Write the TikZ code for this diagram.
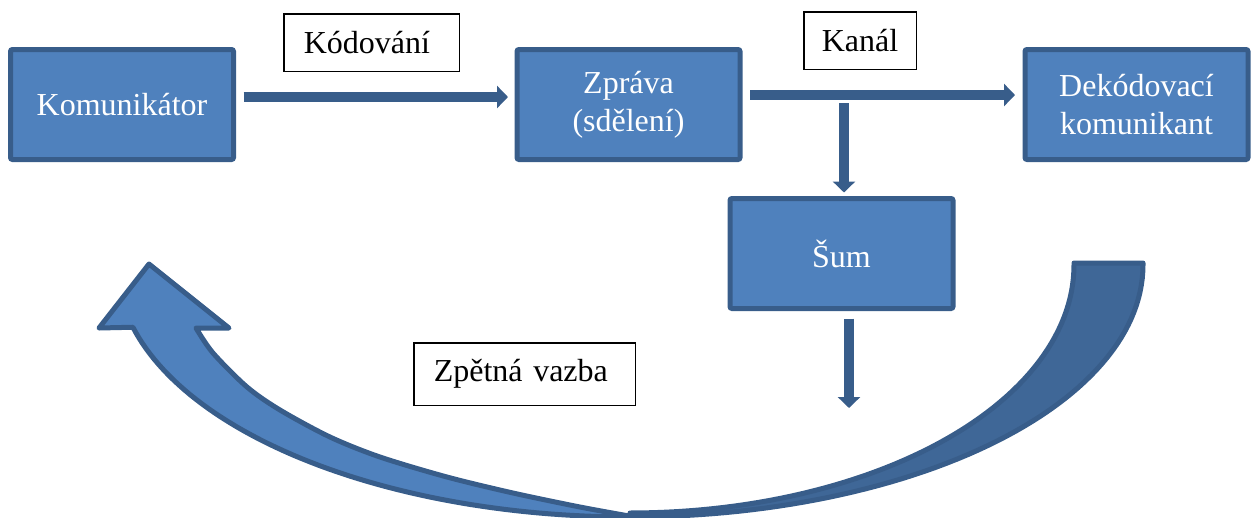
\documentclass[tikz,border=0pt]{standalone}
\usepackage{fontspec}
\setmainfont{Liberation Serif}
\usetikzlibrary{arrows.meta,calc}
\definecolor{boxfill}{HTML}{4F81BD}
\definecolor{boxline}{HTML}{385D8A}
\definecolor{backfill}{HTML}{3F6797}
\begin{document}
\begin{tikzpicture}[x=1pt,y=-1pt,
  bluebox/.style={draw=boxline, fill=boxfill, line width=5pt, rounded corners=2pt,
    minimum width=223pt, minimum height=110pt, inner sep=0pt, text=white,
    align=center, font=\fontsize{32}{38}\selectfont},
  tbox/.style={draw=black, line width=1.5pt, fill=white, inner xsep=20pt, inner ysep=0pt,
    align=left, text=black, font=\fontsize{32}{38}\selectfont},
  conn/.style={draw=boxline, line width=10pt, -{Triangle[length=11pt,width=22pt]}},
  bigarrow/.style={draw=boxline, line width=5pt, line join=round}
]
\useasboundingbox (0,0) rectangle (1257,517);

% curved feedback arrow: back (darker) part
\path[bigarrow, fill=backfill] (1143,263)
  -- plot[domain=0:90, samples=60, variable=\t] ({630+513*cos(\t)},{265+252*sin(\t)})
  -- plot[domain=90:0, samples=60, variable=\t] ({630+444*cos(\t)},{265+248*sin(\t)})
  -- (1074,263) -- cycle;
% front (lighter) part with the head
\path[bigarrow, fill=boxfill] (149,264) -- (229,328) -- (196,328)
  -- plot[smooth] coordinates {(196,328) (213,353) (247,387) (280,410) (330,437) (380,457) (447,477) (513,493) (580,507) (632,516.5)}
  -- plot[domain=90:165.7, samples=60, variable=\t] ({630+513*cos(\t)},{265+252*sin(\t)})
  -- (99,328) -- cycle;

% blue boxes
\node[bluebox] (kom) at (122,104.5) {Komunikátor};
\node[bluebox] (zpr) at (628.5,104.5) {Zpráva\\(sdělení)};
\node[bluebox] (dek) at (1136.5,104.5) {Dekódovací\\komunikant};
\node[bluebox] (sum) at (841.5,253.5) {Šum};

% label boxes
\node[tbox, text width=135.5pt, minimum height=57.5pt] (kod) at (371.5,42.5) {Kódování};
\node[tbox, inner xsep=18pt, text width=76.5pt, minimum height=57.5pt] (kan) at (860,40.5) {Kanál};
\node[tbox, text width=181.5pt, minimum height=62.5pt] (zv) at (524.5,374) {Zpětná vazba};

% connectors
\coordinate (split) at (844,103);
\coordinate (noise) at (849,408);
\draw[conn] ([xshift=7.5pt,yshift=7.5pt]kom.east) -- ([xshift=-6.5pt,yshift=7.5pt]zpr.west);
\draw[conn] ([xshift=7.5pt,yshift=9.5pt]zpr.east) -- ([xshift=-7.5pt,yshift=9.5pt]dek.west);
\draw[conn, shorten >=3.5pt] (split) -- (split |- sum.north);
\draw[conn, shorten <=7.5pt] (noise |- sum.south) -- (noise);
\end{tikzpicture}
\end{document}
